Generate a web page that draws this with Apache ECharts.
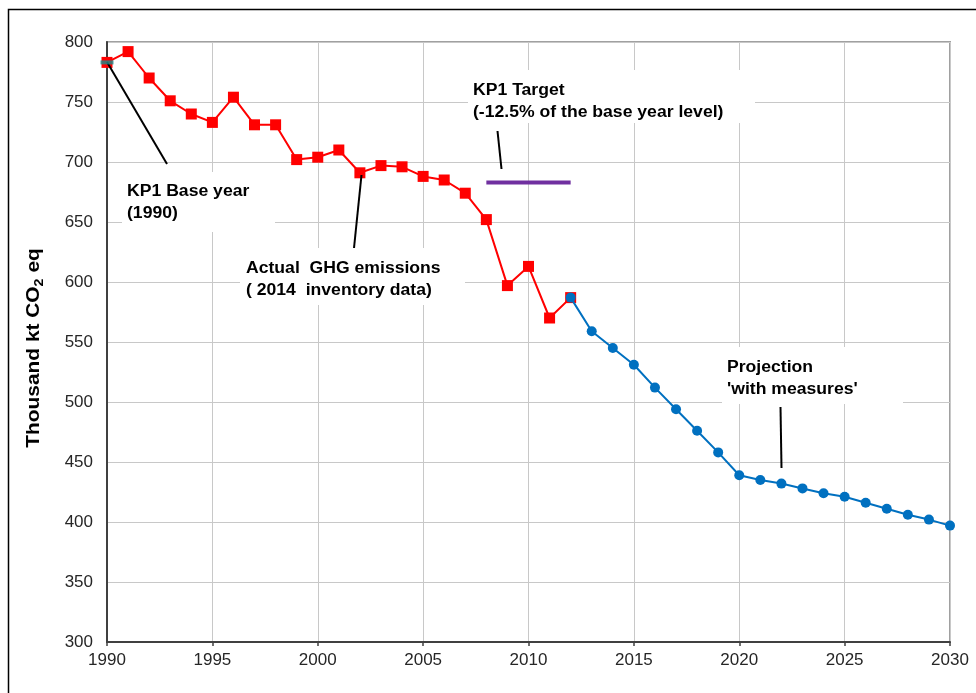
<!DOCTYPE html>
<html>
<head>
<meta charset="utf-8">
<script src="https://cdn.jsdelivr.net/npm/echarts@6/dist/echarts.min.js"></script>
<style>
html,body{margin:0;padding:0;background:#fff;}
#chart{width:976px;height:693px;}
</style>
</head>
<body>
<div id="chart"></div>
<script>
const actualYears = [1990,1991,1992,1993,1994,1995,1996,1997,1998,1999,2000,2001,2002,2003,2004,2005,2006,2007,2008,2009,2010,2011,2012];
const actualValues = [783,792,770,751,740,733,754,731,731,702,704,710,691,697,696,688,685,674,652,597,613,570,587];
const projYears = [2012,2013,2014,2015,2016,2017,2018,2019,2020,2021,2022,2023,2024,2025,2026,2027,2028,2029,2030];
const projValues = [587,559,545,531,512,494,476,458,439,435,432,428,424,421,416,411,406,402,397];
const targetYears = [2008,2012];
const targetValue = 683;
const baseYear = 1990;
const baseValue = 783;
const xTicks = [1990,1995,2000,2005,2010,2015,2020,2025,2030];
const yTicks = [300,350,400,450,500,550,600,650,700,750,800];
const labels = {
  base: 'KP1 Base year\n(1990)',
  actual: 'Actual  GHG emissions\n( 2014  inventory data)',
  target: 'KP1 Target\n(-12.5% of the base year level)',
  proj: 'Projection\n\'with measures\''
};

const FONT = 'Liberation Sans, Arial, sans-serif';
const chart = echarts.init(document.getElementById('chart'));

function pair(xs, ys){ return xs.map((x,i)=>[x, ys[i]]); }

function box(x,y,w,h){ return {type:'rect', z:1, silent:true, shape:{x:x,y:y,width:w,height:h}, style:{fill:'#fff'}}; }
function txt(x,y,t){ return {type:'text', z:6, silent:true, x:x, y:y, scaleX:1.1, style:{text:t, font:'bold 16px '+FONT, fill:'#000', lineHeight:22, verticalAlign:'top', align:'left'}}; }
function ln(x1,y1,x2,y2){ return {type:'line', z:6, silent:true, shape:{x1:x1,y1:y1,x2:x2,y2:y2}, style:{stroke:'#000', lineWidth:2}}; }

const option = {
  animation: false,
  backgroundColor: '#fff',
  grid: {left:107, top:42, right:26, bottom:51, show:true, borderColor:'#a0a0a0', borderWidth:2, backgroundColor:'transparent'},
  xAxis: {
    type:'value', min:xTicks[0], max:xTicks[xTicks.length-1], interval:5,
    axisLine:{show:true, onZero:false, lineStyle:{color:'#404040', width:2}},
    axisTick:{show:true, length:4, lineStyle:{color:'#404040', width:1.5}},
    axisLabel:{color:'#262626', fontFamily:FONT, fontSize:17, margin:10, formatter: v => String(v)},
    splitLine:{show:true, lineStyle:{color:'#c8c8c8', width:1}}
  },
  yAxis: {
    type:'value', min:yTicks[0], max:yTicks[yTicks.length-1], interval:50,
    axisLine:{show:true, onZero:false, lineStyle:{color:'#404040', width:2}},
    axisTick:{show:false},
    axisLabel:{color:'#262626', fontFamily:FONT, fontSize:17, margin:14},
    splitLine:{show:true, lineStyle:{color:'#c8c8c8', width:1}}
  },
  series: [
    {type:'line', name:'target', data: targetYears.map(y=>[y,targetValue]), showSymbol:false, symbol:'none',
     lineStyle:{color:'#7030a0', width:4}, z:3},
    {type:'line', name:'actual', data: pair(actualYears, actualValues), symbol:'rect', symbolSize:11,
     itemStyle:{color:'#ff0000'}, lineStyle:{color:'#ff0000', width:2}, z:4},
    {type:'line', name:'projection', data: pair(projYears, projValues), symbol:'circle', symbolSize:10,
     itemStyle:{color:'#0070c0'}, lineStyle:{color:'#0070c0', width:2}, z:5},
    {type:'scatter', name:'base', data: [[baseYear, baseValue]], symbol:'rect', symbolSize:[13,4],
     itemStyle:{color:'#1b8a8a'}, z:6}
  ],
  graphic: {elements: [
    {type:'rect', z:10, silent:true, shape:{x:8.5,y:9.5,width:1100,height:1100}, style:{fill:'none', stroke:'#000', lineWidth:1.5}},
    box(122,172,153,60),
    box(240,248,225,57),
    box(468,70,287,53),
    box(722,347,181,57),
    ln(107,62,167,164),
    ln(361.5,175,354,248),
    ln(497.5,131,501.5,169),
    ln(780.5,407,781.5,468),
    txt(127,181,labels.base),
    txt(246,258,labels.actual),
    txt(473,80,labels.target),
    txt(727,357,labels.proj),
    {type:'text', z:6, silent:true, x:34, y:348, rotation:Math.PI/2, scaleX:1.1,
     style:{text:'{a|Thousand kt CO}{s|2}{a| eq}', align:'center', verticalAlign:'middle',
       rich:{a:{font:'bold 19px '+FONT, fill:'#000', lineHeight:24, verticalAlign:'middle'},
             s:{font:'bold 13px '+FONT, fill:'#000', lineHeight:24, verticalAlign:'bottom', padding:[6,0,0,0]}}}}
  ]}
};
chart.setOption(option);
</script>
</body>
</html>
